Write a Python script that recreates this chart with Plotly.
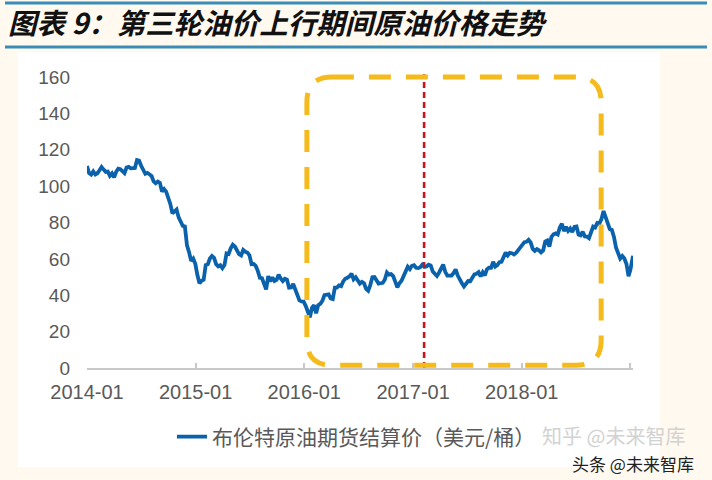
import pandas as pd
import plotly.graph_objects as go

# ---------------- data (Brent settlement, USD/bbl, weekly readings) ----------------
brent_2014 = [111.0, 107.2, 106.4, 108.1, 106.4,
              107.1, 108.7, 110.5, 109.1,
              107.8, 108.0, 105.7, 107.0,
              104.8, 107.9, 109.6, 109.3, 108.0,
              107.1, 110.2, 110.6, 109.8,
              109.7, 110.0, 114.3, 114.0,
              111.2, 108.3, 106.8, 107.3, 106.5,
              105.6, 102.6, 101.6, 102.5,
              101.8, 97.0, 98.4, 97.0,
              94.2, 90.2, 85.0, 86.1, 87.1,
              82.8, 80.4, 78.1, 77.8,
              67.4, 63.7, 58.9, 60.2]
brent_2015 = [57.3,
              51.1, 46.6, 48.0, 48.5,
              56.6, 57.0, 60.2, 61.6,
              60.6, 57.1, 55.9, 56.5,
              54.9, 56.6, 63.0, 62.7, 65.8,
              67.8, 66.8, 64.7, 62.6,
              61.9, 64.9, 63.9, 63.5,
              62.0, 57.1, 57.2, 56.1, 53.4,
              49.6, 49.4, 46.6, 43.2,
              50.5, 47.6, 49.8, 47.8, 48.4,
              51.3, 49.2, 47.8, 49.1,
              48.6, 44.2, 44.3, 46.2,
              43.5, 40.1, 37.2, 36.6, 36.5]
brent_2016 = [34.2, 30.3, 27.9, 33.1,
              34.5, 30.1, 34.5, 35.3,
              36.9, 40.1, 40.3, 40.5, 38.3,
              37.9, 44.2, 44.2, 45.4,
              45.0, 47.6, 49.1, 49.6,
              50.4, 51.9, 48.8, 49.9, 47.9,
              46.4, 47.4, 46.6, 43.5,
              42.5, 45.6, 49.9, 50.0, 48.0,
              46.4, 46.6, 46.8, 48.7,
              52.5, 51.3, 51.6, 50.5,
              47.1, 44.3, 46.6, 48.0, 50.5,
              53.9, 55.7, 54.4, 56.2]
brent_2017 = [56.5, 55.1, 54.9, 55.4,
              56.8, 55.6, 55.8, 56.8,
              56.4, 53.1, 51.8, 50.6, 52.4,
              54.4, 56.9, 52.9, 50.8,
              50.8, 50.8, 52.2, 54.2, 50.8,
              48.1, 46.6, 44.8, 46.5,
              47.8, 47.7, 49.7, 51.5,
              51.8, 52.7, 50.3, 52.6, 50.9,
              54.2, 55.2, 55.1, 58.4,
              55.8, 56.6, 58.2, 58.4,
              61.4, 63.5, 61.9, 63.3, 63.1,
              62.4, 63.3, 65.0, 66.4]
brent_2018 = [67.8, 69.2, 69.4, 70.5, 69.0,
              65.5, 64.4, 65.4, 64.7,
              63.6, 64.6, 69.5, 70.1,
              66.7, 72.1, 73.5, 74.0,
              73.4, 77.2, 79.3, 75.3, 77.6,
              75.4, 76.7, 74.7, 77.6,
              77.8, 73.4, 72.9, 74.9,
              72.4, 72.3, 71.4, 74.8, 77.8,
              77.3, 79.7, 79.4, 81.9,
              86.3, 83.1, 79.8, 76.4, 75.9,
              72.1, 66.1, 62.5, 60.2,
              61.6, 60.2, 57.2, 50.5]
brent_2019 = [53.8, 57.1, 57.3, 61.7]

series_name = "布伦特原油期货结算价（美元/桶）"
title_text = "图表 9：第三轮油价上行期间原油价格走势"
x_tick_dates = ["2014-01-01", "2015-01-01", "2016-01-01", "2017-01-01", "2018-01-01", "2019-01-01"]
x_tick_labels = ["2014-01", "2015-01", "2016-01", "2017-01", "2018-01", ""]
y_ticks = [0, 20, 40, 60, 80, 100, 120, 140, 160]

# highlighted period and marker line
box_start, box_end = "2016-01-10", "2018-09-25"
box_low, box_high = 1.5, 160
marker_date = "2017-02-07"

# ---------------- build dates ----------------
dates = (list(pd.date_range("2014-01-01", periods=len(brent_2014), freq="7D"))
         + list(pd.date_range("2014-12-31", periods=len(brent_2015), freq="7D"))
         + list(pd.date_range("2016-01-06", periods=len(brent_2016), freq="7D"))
         + list(pd.date_range("2017-01-04", periods=len(brent_2017), freq="7D"))
         + list(pd.date_range("2018-01-03", periods=len(brent_2018), freq="7D"))
         + list(pd.date_range("2019-01-01", periods=len(brent_2019), freq="3D")))
values = brent_2014 + brent_2015 + brent_2016 + brent_2017 + brent_2018 + brent_2019

# ---------------- layout geometry ----------------
W, H = 712, 480
ML, MR, MT, MB = 87, 79, 72, 112
PW, PH = W - ML - MR, H - MT - MB
x_range = ["2014-01-01", "2019-01-10"]
range_days = (pd.Timestamp(x_range[1]) - pd.Timestamp(x_range[0])).days
y_max = PH / 1.8187


def px_x(p):
    return (p - ML) / PW


def px_y(p):
    return (H - MB - p) / PH


fig = go.Figure()
fig.add_trace(go.Scatter(
    x=dates, y=values, mode="lines", name=series_name,
    line=dict(color="#0B62AC", width=3.8), showlegend=True))

# rounded dashed box (data coordinates)
r_px = 25
rx = pd.Timedelta(days=r_px / PW * range_days)
ry = r_px * y_max / PH
x0, x1 = pd.Timestamp(box_start), pd.Timestamp(box_end)
y0, y1 = box_low, box_high
f = lambda t: t.strftime("%Y-%m-%d")
path = (f"M{f(x0 + rx)},{y1} L{f(x1 - rx)},{y1} Q{f(x1)},{y1} {f(x1)},{y1 - ry} "
        f"L{f(x1)},{y0 + ry} Q{f(x1)},{y0} {f(x1 - rx)},{y0} "
        f"L{f(x0 + rx)},{y0} Q{f(x0)},{y0} {f(x0)},{y0 + ry} "
        f"L{f(x0)},{y1 - ry} Q{f(x0)},{y1} {f(x0 + rx)},{y1} Z")

shapes = [
    # white panel
    dict(type="rect", xref="paper", yref="paper", x0=px_x(18), x1=px_x(660),
         y0=px_y(467), y1=px_y(52), fillcolor="white", line=dict(width=0), layer="below"),
    # title rules
    dict(type="line", xref="paper", yref="paper", x0=px_x(5), x1=px_x(707),
         y0=px_y(3), y1=px_y(3), line=dict(color="#3A8DB8", width=3)),
    dict(type="line", xref="paper", yref="paper", x0=px_x(5), x1=px_x(707),
         y0=px_y(47), y1=px_y(47), line=dict(color="#3A8DB8", width=3)),
    # red marker
    dict(type="line", xref="x", yref="y", x0=marker_date, x1=marker_date, y0=0, y1=161.5,
         line=dict(color="#C8141E", width=2.6, dash="6px,4px"), layer="above"),
    # yellow box
    dict(type="path", xref="x", yref="y", path=path,
         line=dict(color="#F5BA1B", width=5, dash="22px,15px"), layer="above"),
]

annotations = [
    dict(text="知乎 @未来智库", xref="paper", yref="paper", x=px_x(540), y=px_y(435),
         xanchor="left", yanchor="middle", showarrow=False,
         font=dict(family="Noto Sans CJK SC", size=20, color="#D2D2D2")),
    dict(text="头条 @未来智库", xref="paper", yref="paper", x=px_x(570), y=px_y(463),
         xanchor="left", yanchor="middle", showarrow=False,
         font=dict(family="Noto Sans CJK SC", size=17, color="#222222")),
]

fig.update_layout(
    width=W, height=H,
    margin=dict(l=ML, r=MR, t=MT, b=MB, pad=0),
    paper_bgcolor="#FFF9EF", plot_bgcolor="white",
    title=dict(text=title_text, x=8 / W, xref="container", xanchor="left",
               y=1 - 24 / H, yref="container", yanchor="middle",
               font=dict(family="Noto Sans CJK SC", size=28.5, color="#111111", weight="bold",
                         style="italic")),
    xaxis=dict(type="date", range=x_range, tickvals=x_tick_dates, ticktext=x_tick_labels,
               showgrid=False, zeroline=False, showline=True, linecolor="#C8C8C8",
               linewidth=1.5, ticks="inside", ticklen=5, tickcolor="#C8C8C8", tickwidth=1.5,
               tickfont=dict(family="Liberation Sans, Arial", size=20, color="#595959"),
               ticklabelstandoff=5),
    yaxis=dict(range=[0, y_max], tickvals=y_ticks, showgrid=False, zeroline=False,
               showline=False, ticks="",
               tickfont=dict(family="Liberation Sans, Arial", size=19, color="#595959"),
               ticklabelstandoff=16),
    legend=dict(orientation="h", x=px_x(172), y=px_y(437), xanchor="left", yanchor="middle",
                bgcolor="rgba(0,0,0,0)",
                font=dict(family="Noto Sans CJK SC", size=21, color="#595959")),
    shapes=shapes, annotations=annotations,
)

fig.write_html("out.html")
